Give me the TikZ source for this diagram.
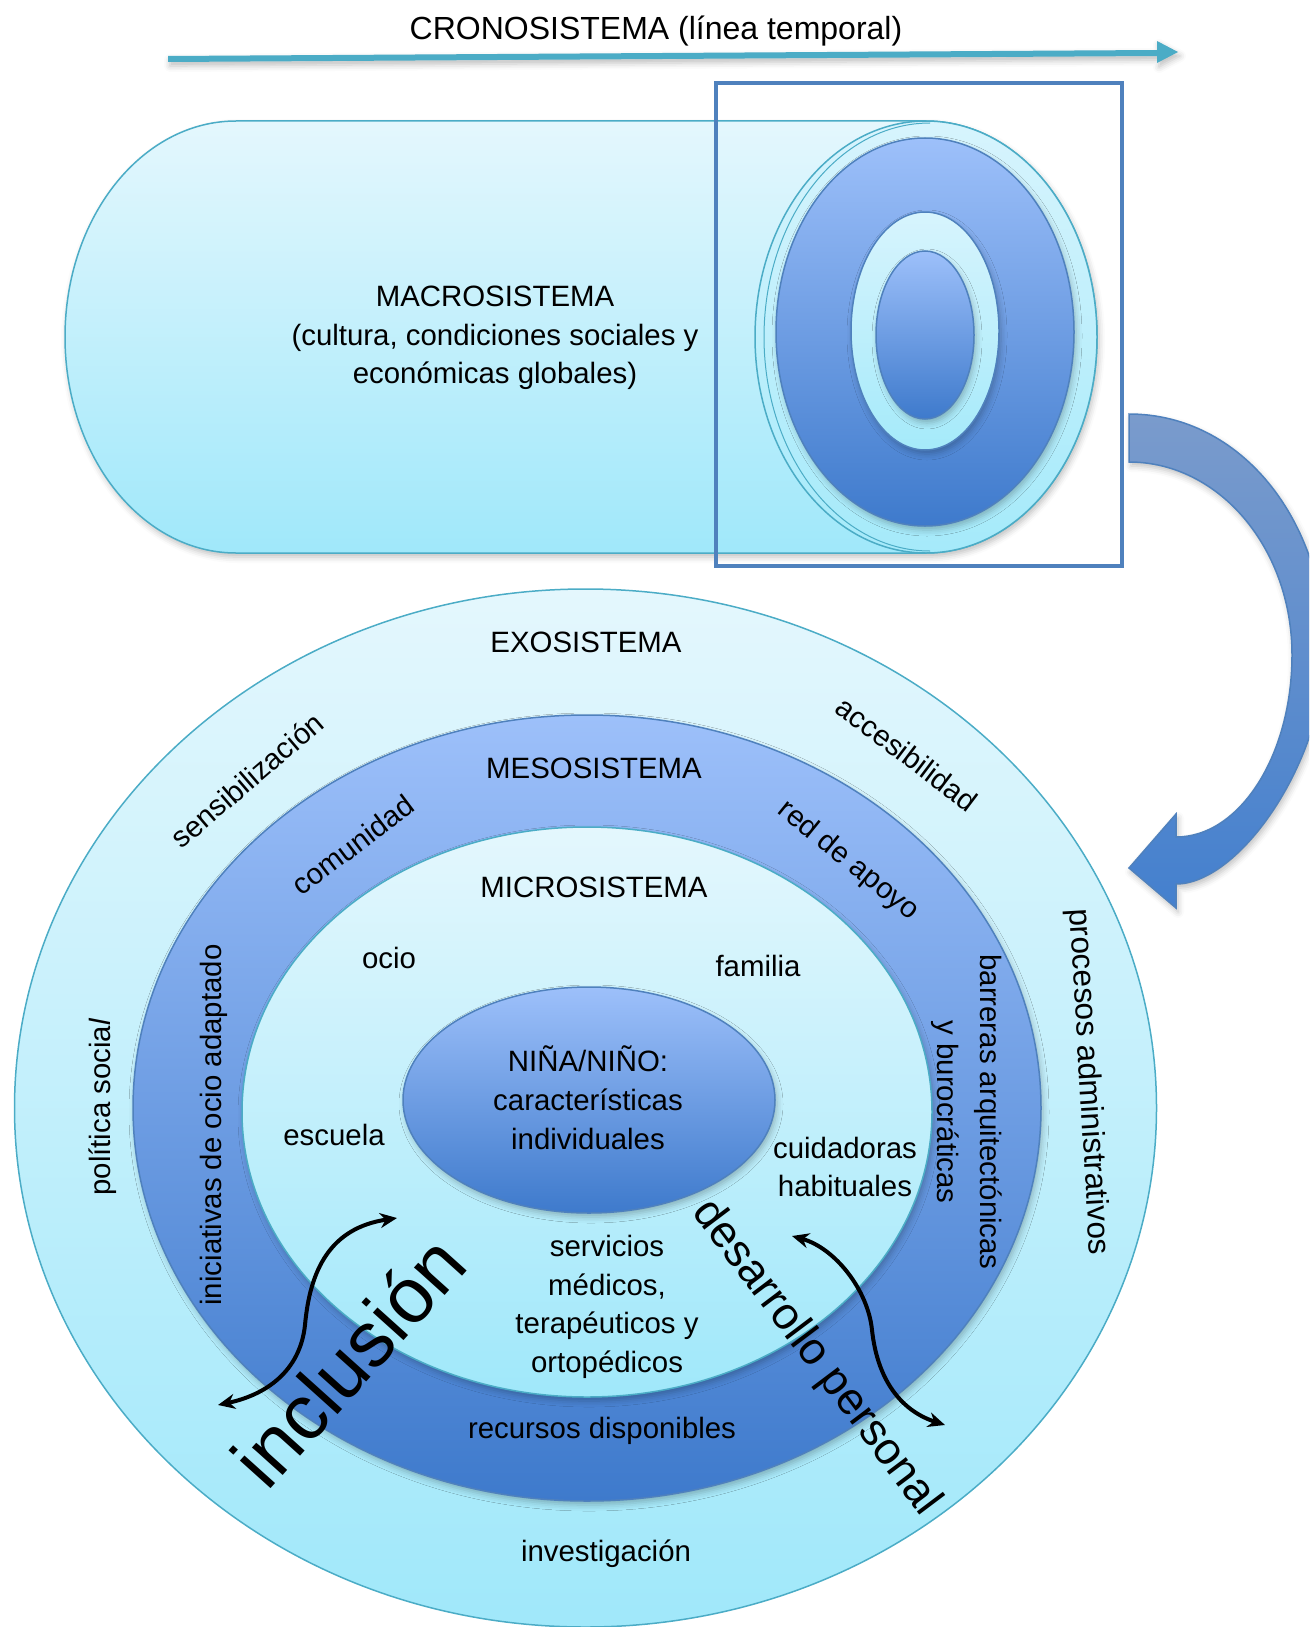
\documentclass[tikz,border=0pt]{standalone}
\usepackage{fontspec}
\setmainfont{Liberation Sans}
\usetikzlibrary{arrows.meta,shadows.blur}

\definecolor{rimTeal}{RGB}{75,172,198}
\definecolor{rimBlue}{RGB}{79,129,189}
\definecolor{paleTop}{RGB}{228,247,253}
\definecolor{paleBot}{RGB}{160,232,250}
\definecolor{faceTop}{RGB}{215,244,253}
\definecolor{faceBot}{RGB}{165,234,250}
\definecolor{deepTop}{RGB}{157,192,250}
\definecolor{deepBot}{RGB}{62,122,204}
\definecolor{arcTop}{RGB}{122,155,204}
\definecolor{arcBot}{RGB}{68,128,206}

\tikzset{
  pale/.style={top color=paleTop,bottom color=paleBot,draw=rimTeal,line width=1.5pt},
  facefill/.style={top color=faceTop,bottom color=faceBot,draw=rimTeal,line width=1.5pt},
  deep/.style={top color=deepTop,bottom color=deepBot,draw=rimBlue,line width=1.5pt},
  softshadow/.style={blur shadow={shadow xshift=2pt,shadow yshift=-4pt,shadow blur radius=6pt,shadow opacity=25}},
  lbl/.style={font=\fontsize{29.4}{38.5}\selectfont,inner sep=0pt,align=center},
  twoway/.style={line width=4pt,{Stealth[length=17pt,width=15pt]}-{Stealth[length=17pt,width=15pt]}},
}

\begin{document}
\begin{tikzpicture}[x=1pt,y=-1pt]
\useasboundingbox (0,0) rectangle (1309,1627);
\clip (0,0) rectangle (1309,1627);

% time line
\fill[rimTeal,softshadow] (168,56) -- (1157,50) -- (1157,41) -- (1178,52) -- (1157,63)
  -- (1157,56) -- (168,62) -- cycle;
\node[lbl,font=\fontsize{32}{38}\selectfont] (crono) at (656,31) {CRONOSISTEMA (línea temporal)};

% cylinder body
\path[pale,softshadow] (236,121) -- (926,121)
  arc[start angle=-90,end angle=90,x radius=171,y radius=216]
  -- (236,553) arc[start angle=90,end angle=270,x radius=171,y radius=216] -- cycle;
% cylinder face with its nested rings
\path[facefill] (926,337) ellipse[x radius=171,y radius=216];
\draw[rimTeal,line width=1pt] (930,123) arc[start angle=270,end angle=90,x radius=166,y radius=214];
\path[deep,softshadow] (925,332) ellipse[x radius=149,y radius=194];
\path[facefill,draw=rimBlue,softshadow] (925,331) ellipse[x radius=74,y radius=119];
\path[deep,softshadow] (925,335) ellipse[x radius=49,y radius=84];

\node[lbl] (macro) at (495,338) {MACROSISTEMA\\(cultura, condiciones sociales y\\económicas globales)};

% frame around the cylinder face
\draw[rimBlue,line width=4.5pt] (716,83) rectangle (1122,566);

% curved arrow from the face to the nested systems
\path[top color=arcTop,bottom color=arcBot,draw=rimBlue,line width=1.5pt,softshadow]
  (1129,414) .. controls (1242,414) and (1325,522) .. (1325,650)
  .. controls (1325,760) and (1240,884) .. (1176,884)
  -- (1176,908) -- (1129,868) -- (1176,814) -- (1176,837)
  .. controls (1240,837) and (1292,755) .. (1292,655)
  .. controls (1292,548) and (1219,462) .. (1129,462) -- cycle;

% nested systems
\path[pale] (585.5,1108) ellipse[x radius=571,y radius=519];
\path[deep,softshadow] (587,1108) ellipse[x radius=454,y radius=393];
\path[pale,softshadow] (587,1112) ellipse[x radius=345,y radius=285];
\path[deep,softshadow] (589,1100) ellipse[x radius=186,y radius=113];

% exosystem labels
\node[lbl] (exo) at (586,642) {EXOSISTEMA};
\node[lbl,rotate=40.5] (sensib) at (247,780) {sensibilización};
\node[lbl,rotate=-37] (acces) at (907,754) {accesibilidad};
\node[lbl,rotate=90] (polsoc) at (103,1107) {política socia\textit{l}};
\node[lbl,font=\fontsize{31.5}{38}\selectfont,rotate=-86.7] (procadm) at (1088,1082) {procesos administrativos};
\node[lbl] (invest) at (606,1554) {investigación};

% mesosystem labels
\node[lbl] (meso) at (594,768) {MESOSISTEMA};
\node[lbl,rotate=37] (comun) at (353,845) {comunidad};
\node[lbl,rotate=-39] (redapoyo) at (848,861) {red de apoyo};
\node[lbl,rotate=90] (inicocio) at (214,1125) {iniciativas de ocio adaptado};
\node[lbl,rotate=-90] (barreras) at (988,1112) {barreras arquitectónicas};
\node[lbl,rotate=-90] (burocr) at (945,1112) {y burocráticas};
\node[lbl] (recursos) at (602,1431) {recursos disponibles};

% microsystem labels
\node[lbl] (micro) at (594,887) {MICROSISTEMA};
\node[lbl] (ocio) at (389,958) {ocio};
\node[lbl] (familia) at (758,966) {familia};
\node[lbl] (escuela) at (334,1135) {escuela};
\node[lbl] (cuidad) at (845,1167) {cuidadoras\\habituales};
\node[lbl] (servic) at (607,1307) {servicios\\médicos,\\terapéuticos y\\ortopédicos};

% the child at the centre
\node[lbl,font=\fontsize{29.4}{39}\selectfont] (nino) at (588,1098) {NIÑA/NIÑO:\\características\\individuales};

% two-way influences
\coordinate (incA) at (397,1218);
\coordinate (incB) at (218,1405);
\draw[twoway] (incB) .. controls (265,1395) and (300,1372) .. (305,1325)
  .. controls (310,1270) and (330,1228) .. (incA);
\coordinate (desA) at (792,1236);
\coordinate (desB) at (945,1425);
\draw[twoway] (desA) .. controls (835,1248) and (868,1290) .. (872,1330)
  .. controls (878,1385) and (905,1412) .. (desB);

\node[inner sep=0pt,font=\fontsize{78}{88}\selectfont,rotate=48] (inclusion) at (348,1361) {inclusión};
\node[inner sep=0pt,font=\fontsize{45}{50}\selectfont,rotate=-53] (desarrollo) at (816,1358) {desarrollo personal};
\end{tikzpicture}
\end{document}
